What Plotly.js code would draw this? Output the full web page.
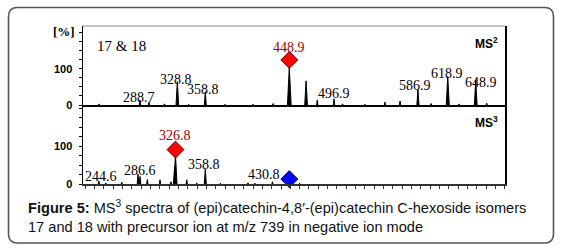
<!DOCTYPE html>
<html><head><meta charset="utf-8">
<script src="https://cdn.plot.ly/plotly-3.0.1.min.js"></script>
<style>html,body{margin:0;padding:0;background:#fff;} #chart{width:562px;height:250px;}</style>
</head><body><div id="chart"></div>
<script>
// ---- DATA ----
// MS2 spectrum (top panel): m/z and relative intensity (%)
const ms2Mz  = [244.8, 288.7, 298.4, 315.0, 328.8, 341.0, 358.8, 380.0, 410.0, 431.5, 448.9, 466.9, 478.9, 496.9, 506.0, 530.0, 551.5, 567.7, 586.9, 601.0, 618.9, 631.0, 648.9, 660.7];
const ms2Int = [3, 14, 8, 3, 65, 2, 37, 2, 2, 4, 105, 67, 14, 17, 3, 2, 8, 11, 44, 4, 79, 3, 69, 5];
const ms2Labels = ['288.7', '328.8', '358.8', '448.9', '496.9', '586.9', '618.9', '648.9'];
const ms2MarkMz = [448.9];
const ms2MarkY  = [125];

// MS3 spectrum (bottom panel)
const ms3Mz  = [244.6, 252.0, 269.2, 286.6, 288.8, 296.6, 310.2, 322.0, 325.8, 326.8, 338.9, 349.6, 358.8, 375.0, 404.6, 412.0, 430.8, 460.0];
const ms3Int = [8, 3, 5, 26, 20, 12, 11, 6, 45, 80, 11, 3, 40, 2, 3, 2, 6, 2];
const ms3Labels = ['244.6', '286.6', '326.8', '358.8', '430.8'];
const ms3MarkMz = [326.8, 448.9];
const ms3MarkY  = [91, 13];

const xRange = [227.6, 680.3];
const yTopRange = [0, 219];
const yBotRange = [0, 209];

// ---- LAYOUT HELPERS ----
const L = 83, T = 26, W = 422, H = 158;
const PX = x => (x - L) / W;
const PY = y => (T + H - y) / H;

function stickTrace(mz, inten, xa, ya) {
  const xs = [], ys = [];
  mz.forEach((m, i) => {
    const h = inten[i];
    const w = 0.5 + 0.014 * h;
    xs.push(m - w, m, m + w, null);
    ys.push(0, h, 0, null);
  });
  return {x: xs, y: ys, xaxis: xa, yaxis: ya, mode: 'lines', fill: 'toself',
    fillcolor: '#000', line: {color: '#000', width: 1}, hoverinfo: 'skip', showlegend: false};
}

const markColorsTop = ['#ff0000'];
const markColorsBot = ['#ff0000', '#0000ff'];
const markLineTop = ['#700000'];
const markLineBot = ['#700000', '#000060'];

const traces = [
  stickTrace(ms3Mz, ms3Int, 'x', 'y'),
  stickTrace(ms2Mz, ms2Int, 'x2', 'y2'),
  {x: ms2MarkMz, y: ms2MarkY, xaxis: 'x2', yaxis: 'y2', mode: 'markers', cliponaxis: false,
   marker: {symbol: 'diamond', size: 13, color: markColorsTop, line: {color: markLineTop, width: 1}}, showlegend: false},
  {x: ms3MarkMz, y: ms3MarkY, xaxis: 'x', yaxis: 'y', mode: 'markers', cliponaxis: false,
   marker: {symbol: 'diamond', size: 13, color: markColorsBot, line: {color: markLineBot, width: 1}}, showlegend: false}
];

// label nudges in pixels [dx, dy]
const nudgeTop = {'288.7': [-1, 2], '328.8': [-1, 2], '358.8': [-2.5, 2], '448.9': [0, 12.5], '496.9': [0, 5.5],
  '586.9': [-3, 4], '618.9': [-1, 3.5], '648.9': [5, -2]};
const nudgeBot = {'244.6': [2.4, 4.7], '286.6': [2.3, 4], '326.8': [0, 14.3], '358.8': [-1, 4], '430.8': [-8, 7.7]};

const serif = 'Liberation Serif, Times New Roman, serif';
const sans = 'Liberation Sans, Arial, sans-serif';
const annotations = [];

function addLabels(labels, mz, inten, markMz, markY, xa, ya, nudge) {
  labels.forEach(lab => {
    const m = parseFloat(lab);
    const mi = markMz.indexOf(m);
    let y, red = false;
    if (mi >= 0 && markY[mi] > 50) { y = markY[mi]; red = true; }
    else { y = inten[mz.indexOf(m)]; }
    const n = nudge[lab] || [0, 3];
    annotations.push({x: m, y: y, xref: xa, yref: ya, text: lab, showarrow: false,
      xanchor: 'center', yanchor: 'middle', xshift: n[0], yshift: n[1],
      font: {family: serif, size: 14, color: red ? '#990000' : '#000'}});
  });
}
addLabels(ms2Labels, ms2Mz, ms2Int, ms2MarkMz, ms2MarkY, 'x2', 'y2', nudgeTop);
addLabels(ms3Labels, ms3Mz, ms3Int, ms3MarkMz, ms3MarkY, 'x', 'y', nudgeBot);

annotations.push(
  {xref: 'paper', yref: 'paper', x: PX(95), y: PY(46), xanchor: 'left', yanchor: 'middle', showarrow: false,
   text: '17 &amp; 18', font: {family: serif, size: 15, color: '#000'}},
  {xref: 'paper', yref: 'paper', x: PX(77), y: PY(32), xanchor: 'right', yanchor: 'middle', showarrow: false,
   text: '[%]', font: {family: serif, size: 13, color: '#000', weight: 'bold'}},
  {xref: 'paper', yref: 'paper', x: PX(500), y: PY(43), xanchor: 'right', yanchor: 'middle', showarrow: false,
   text: 'MS<sup>2</sup>', font: {family: sans, size: 12, color: '#000', weight: 'bold'}},
  {xref: 'paper', yref: 'paper', x: PX(500), y: PY(122), xanchor: 'right', yanchor: 'middle', showarrow: false,
   text: 'MS<sup>3</sup>', font: {family: sans, size: 12, color: '#000', weight: 'bold'}},
  {xref: 'paper', yref: 'paper', x: PX(26), y: PY(196), xanchor: 'left', yanchor: 'top', align: 'left', showarrow: false,
   text: '<b>Figure 5:</b> MS<sup>3</sup> spectra of (epi)catechin-4,8′-(epi)catechin C-hexoside isomers<br>17 and 18 with precursor ion at m/z 739 in negative ion mode',
   font: {family: sans, size: 14.6, color: '#111'}}
);

// rounded outer box
const bx0 = 8.5, by0 = 7.5, bx1 = 553.5, by1 = 243, r = 9;
const P = (x, y) => PX(x) + ',' + PY(y);
const boxPath = 'M' + P(bx0 + r, by0) + ' L' + P(bx1 - r, by0) + ' Q' + P(bx1, by0) + ' ' + P(bx1, by0 + r) +
  ' L' + P(bx1, by1 - r) + ' Q' + P(bx1, by1) + ' ' + P(bx1 - r, by1) +
  ' L' + P(bx0 + r, by1) + ' Q' + P(bx0, by1) + ' ' + P(bx0, by1 - r) +
  ' L' + P(bx0, by0 + r) + ' Q' + P(bx0, by0) + ' ' + P(bx0 + r, by0) + ' Z';

const shapes = [
  {type: 'path', xref: 'paper', yref: 'paper', path: boxPath, line: {color: '#555', width: 1.6}},
  {type: 'line', xref: 'paper', yref: 'paper', x0: 0, x1: 1, y0: 1, y1: 1, line: {color: '#888', width: 1}}
];

const yCommon = {
  tickvals: [0, 100], ticktext: ['0', '100'], ticks: 'outside', ticklen: 3, tickwidth: 1, tickcolor: '#000',
  minor: {dtick: 25, tick0: 0, ticks: 'outside', ticklen: 3, tickcolor: '#000'},
  showline: true, linecolor: '#000', linewidth: 1.5, mirror: true, showgrid: false, zeroline: false,
  tickfont: {family: sans, size: 11, color: '#000', weight: 'bold'}, ticklabelstandoff: 4, fixedrange: true
};

const layout = {
  width: 562, height: 250, margin: {l: L, r: 562 - L - W, t: T, b: 250 - T - H},
  paper_bgcolor: '#fff', plot_bgcolor: '#fff', showlegend: false,
  xaxis: {domain: [0, 1], anchor: 'y', range: xRange, showticklabels: false, ticks: 'outside', ticklen: 3,
    dtick: 10, tick0: 0, tickcolor: '#333', showline: true, linecolor: '#333', linewidth: 2, showgrid: false, zeroline: false},
  xaxis2: {domain: [0, 1], anchor: 'y2', range: xRange, matches: 'x', showticklabels: false, ticks: '',
    showline: true, linecolor: '#000', linewidth: 2, showgrid: false, zeroline: false},
  yaxis: Object.assign({}, yCommon, {domain: [0, 0.5], range: yBotRange}),
  yaxis2: Object.assign({}, yCommon, {domain: [0.5, 1], range: yTopRange}),
  annotations: annotations, shapes: shapes
};

Plotly.newPlot('chart', traces, layout, {staticPlot: true, displayModeBar: false});
</script>
</body></html>
